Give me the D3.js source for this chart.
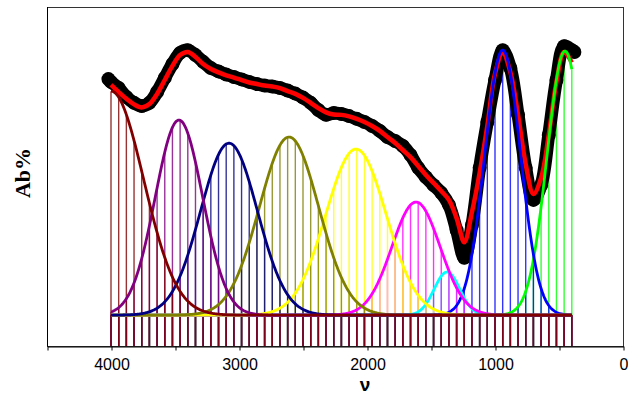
<!DOCTYPE html>
<html>
<head>
<meta charset="utf-8">
<script src="https://cdn.jsdelivr.net/npm/d3@7"></script>
<style>
  html, body { margin: 0; padding: 0; background: #fff; }
  svg { display: block; }
</style>
</head>
<body>
<svg id="chart" width="628" height="395"></svg>
<script>
// Wavenumber grid (cm-1) of the fitted curve and the component drop lines
const gridNu = [4000,3940,3880,3820,3760,3700,3640,3580,3520,3460,3400,3340,3280,3220,3160,3100,
  3040,2980,2920,2860,2800,2740,2680,2620,2560,2500,2440,2380,2320,2260,2200,2140,2080,2020,
  1960,1900,1840,1780,1720,1660,1600,1540,1480,1420,1360,1300,1240,1180,1120,1060,1000,940,
  880,820,760,700,640,580,520,460,400];

// Fitted envelope (red line)
const fitValues = [74.7,72.4,70.2,68.4,67.4,68.5,71.8,76.3,80.9,84.4,85.4,83.8,81.5,79.9,78.8,77.8,
  77.1,76.3,75.5,75.0,74.5,74.2,73.7,72.7,71.8,70.5,68.9,67.2,65.8,65.1,65.0,64.5,63.7,62.7,
  61.4,59.8,57.8,55.9,53.6,51.3,48.4,45.5,42.9,40.3,37.4,31.5,23.7,33.5,46.2,61.4,78.3,85.1,
  78.9,65.0,49.0,39.3,44.5,58.5,75.7,85.4,82.0];

// Measured spectrum (black markers)
const dataNu = [4020,4000,3940,3880,3820,3760,3700,3640,3580,3520,3460,3400,3340,3280,3220,3160,3100,
  3040,2980,2920,2860,2800,2740,2680,2620,2560,2500,2440,2380,2320,2260,2200,2140,2080,2020,
  1960,1900,1840,1780,1720,1660,1600,1540,1480,1420,1360,1300,1240,1180,1120,1060,1000,940,
  880,820,760,700,640,580,520,460,400,380];
const dataValues = [76.6,75.7,73.7,70.8,68.9,67.9,68.9,72.4,77.0,81.5,85.1,86.0,84.4,82.2,80.2,79.1,78.1,
  77.3,76.5,75.7,75.0,74.5,74.2,73.7,72.9,71.9,70.6,68.9,66.6,65.0,65.6,65.3,64.6,63.7,62.7,
  61.4,59.8,57.8,56.5,54.9,52.0,47.8,44.8,42.2,39.7,35.8,27.6,18.6,29.3,47.8,62.7,76.3,86.0,
  80.2,65.0,47.8,37.4,42.2,58.5,76.3,87.3,86.0,85.4];

// Gaussian components: centre (cm-1), height, standard deviation (cm-1), colour
const peakCenters = [4000, 3469, 3078, 2609, 2086, 1617, 1375, 940, 453];
const peakHeights = [72.7, 63.3, 55.8, 57.8, 53.9, 36.7, 14.0, 86.0, 85.7];
const peakSigmas  = [255, 185, 222, 232, 236, 188, 100, 140, 140];
const peakColors  = ["#800000", "#800080", "#000080", "#808000", "#ffff00",
                     "#ff00ff", "#00ffff", "#0000ff", "#00ff00"];

// Axis ticks
const xTicks = [4500, 4000, 3500, 3000, 2500, 2000, 1500, 1000, 500, 0];
const xTickLabels = ["", "4000", "", "3000", "", "2000", "", "1000", "", "0"];

const svg = d3.select("#chart");
const plot = { left: 47, right: 623, top: 7, bottom: 346 };

const x = d3.scaleLinear().domain([4500, 0]).range([plot.left, plot.right]);
const y = d3.scaleLinear().domain([-10, 100]).range([plot.bottom, plot.top]);

const gauss = (i, nu) =>
  peakHeights[i] * Math.exp(-((nu - peakCenters[i]) ** 2) / (2 * peakSigmas[i] ** 2));

// Smooth sampling of each component between the first and last grid points
const nuFine = [];
for (let nu = gridNu[0]; nu >= gridNu[gridNu.length - 1]; nu -= 5) nuFine.push(nu);

// draw order: last component first so the dark-red one ends on top
const order = d3.range(peakCenters.length).reverse();

// Drop lines from each component curve to the axis
const dropG = svg.append("g");
order.forEach(i => {
  dropG.append("g")
    .selectAll("line")
    .data(gridNu)
    .join("line")
    .attr("x1", d => x(d)).attr("x2", d => x(d))
    .attr("y1", d => y(gauss(i, d)))
    .attr("y2", plot.bottom)
    .attr("stroke", peakColors[i])
    .attr("stroke-width", 1.4)
    .attr("stroke-opacity", 0.8);
});

// Measured spectrum: heavy black markers
const dataPts = dataNu.map((d, k) => [d, dataValues[k]]);
svg.append("path")
  .datum(dataPts)
  .attr("fill", "none")
  .attr("stroke", "#000")
  .attr("stroke-width", 13)
  .attr("stroke-linecap", "round")
  .attr("stroke-linejoin", "round")
  .attr("d", d3.line().x(d => x(d[0])).y(d => y(d[1])).curve(d3.curveCatmullRom));
svg.append("g")
  .selectAll("circle")
  .data(dataPts)
  .join("circle")
  .attr("cx", d => x(d[0]))
  .attr("cy", d => y(d[1]))
  .attr("r", 7)
  .attr("fill", "#000");

// Fitted envelope
svg.append("path")
  .datum(gridNu.map((d, k) => [d, fitValues[k]]))
  .attr("fill", "none")
  .attr("stroke", "#ff0000")
  .attr("stroke-width", 4.5)
  .attr("stroke-linejoin", "round")
  .attr("d", d3.line().x(d => x(d[0])).y(d => y(d[1])).curve(d3.curveCatmullRom));

// Component curves
const compLine = d3.line().x(d => x(d[0])).y(d => y(d[1]));
order.forEach(i => {
  svg.append("path")
    .datum(nuFine.map(nu => [nu, gauss(i, nu)]))
    .attr("fill", "none")
    .attr("stroke", peakColors[i])
    .attr("stroke-width", 2.8)
    .attr("d", compLine);
});

// Frame
svg.append("rect")
  .attr("x", plot.left + 0.5).attr("y", plot.top + 0.5)
  .attr("width", plot.right - plot.left).attr("height", plot.bottom - plot.top)
  .attr("fill", "none").attr("stroke", "#333").attr("stroke-width", 1);
svg.append("line")
  .attr("x1", plot.left + 0.5).attr("x2", plot.left + 0.5)
  .attr("y1", plot.top).attr("y2", plot.bottom + 0.5)
  .attr("stroke", "#000");

// Bottom axis
const xAxis = d3.axisBottom(x)
  .tickValues(xTicks)
  .tickFormat((d, k) => xTickLabels[k])
  .tickSize(4)
  .tickSizeOuter(0)
  .tickPadding(8);
const gx = svg.append("g")
  .attr("transform", `translate(0.5,${plot.bottom + 0.5})`)
  .call(xAxis);
gx.select(".domain").attr("stroke", "#000");
gx.selectAll(".tick line").attr("stroke", "#000");
gx.selectAll(".tick text")
  .attr("fill", "#000")
  .style("font-family", "'Liberation Sans', Arial, sans-serif")
  .style("font-size", "16px");

// Axis titles
svg.append("text")
  .attr("x", 365).attr("y", 391)
  .attr("text-anchor", "middle")
  .style("font-family", "'Liberation Sans', Arial, sans-serif")
  .style("font-weight", "bold")
  .style("font-size", "19px")
  .text("ν");
svg.append("text")
  .attr("transform", "translate(30,173) rotate(-90)")
  .attr("text-anchor", "middle")
  .style("font-family", "'Liberation Serif', 'Times New Roman', serif")
  .style("font-weight", "bold")
  .style("font-size", "22px")
  .text("Ab%");
</script>
</body>
</html>
